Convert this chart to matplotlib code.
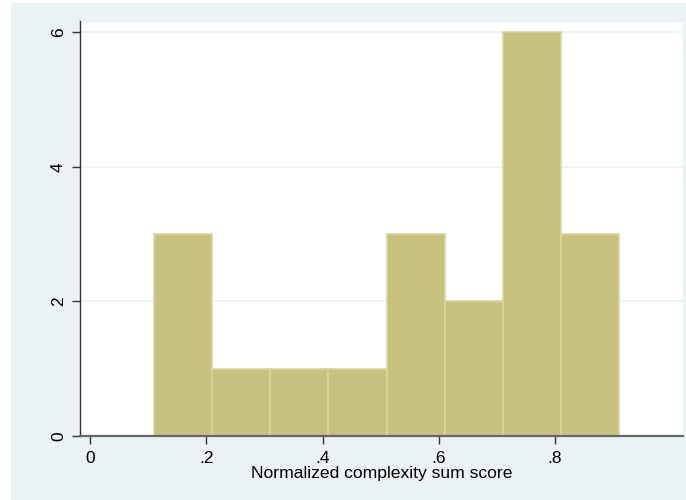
import matplotlib; matplotlib.use("Agg"); import matplotlib.pyplot as plt
from matplotlib.patches import Rectangle

# histogram bins (left edges) and counts
bin_left = [0.11, 0.21, 0.31, 0.41, 0.51, 0.61, 0.71, 0.81]
bin_width = 0.1
counts = [3, 1, 1, 1, 3, 2, 6, 3]
xticks = [0, 0.2, 0.4, 0.6, 0.8]
xtick_labels = ["0", ".2", ".4", ".6", ".8"]
yticks = [0, 2, 4, 6]

BG = "#eaf2f3"
BAR = "#c8c17f"
EDGE = "#d9d5a0"

plt.rcParams["font.family"] = ["Liberation Sans", "DejaVu Sans"]

fig = plt.figure(figsize=(6.86, 5.0), dpi=100)
fig.patch.set_facecolor("white")
fig.add_artist(Rectangle((11 / 686, 0), 1, 497 / 500, transform=fig.transFigure,
                         facecolor=BG, edgecolor="none", zorder=-10))
ax = fig.add_axes([80 / 686, 64 / 500, 603 / 686, 415 / 500])
ax.set_facecolor("white")

ax.bar(bin_left, counts, width=bin_width, align="edge", color=BAR,
       edgecolor=EDGE, linewidth=1.2, zorder=3)

ax.set_xlim(-0.0177, 1.0203)
ax.set_ylim(0, 6.168)
ax.set_xticks(xticks); ax.set_xticklabels(xtick_labels, fontsize=12.5)
ax.set_yticks(yticks); ax.set_yticklabels([str(v) for v in yticks], fontsize=12.5,
                                          rotation=90, va="center")
for v in yticks[1:]:
    ax.axhline(v, color=BG, lw=1.2, zorder=1)
ax.axhline(6.168, color=BG, lw=1.5, zorder=1)
ax.tick_params(axis="both", length=6, width=1, color="#333333", pad=4)
ax.xaxis.set_tick_params(pad=5)

for s in ["top", "right"]:
    ax.spines[s].set_visible(False)
ax.spines["left"].set_color("#333333")
ax.spines["left"].set_linewidth(1)
ax.spines["bottom"].set_color("#666666")
ax.spines["bottom"].set_linewidth(1.6)
ax.spines["bottom"].set_zorder(4)

ax.set_xlabel("Normalized complexity sum score", fontsize=12.6, labelpad=0)

fig.savefig("out.png", dpi=100, facecolor=fig.get_facecolor())
